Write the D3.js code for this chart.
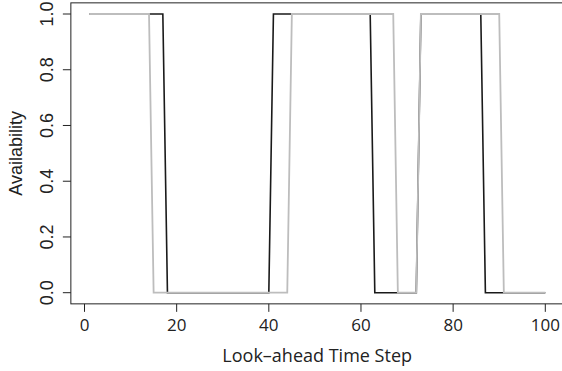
<!DOCTYPE html>
<html>
<head>
<meta charset="utf-8">
<script src="https://cdn.jsdelivr.net/npm/d3@7"></script>
<style>
  body { margin: 0; background: #fff; }
  svg { display: block; }
  .tick-x { font-family: 'Open Sans', sans-serif; font-size: 17px; fill: #222; }
  .tick-y { font-family: 'Liberation Sans', Arial, sans-serif; font-size: 18px; fill: #222; }
  .title-x { font-family: 'Open Sans', sans-serif; font-size: 18px; fill: #222; }
  .title-y { font-family: 'Liberation Sans', Arial, sans-serif; font-size: 18px; fill: #222; }
</style>
</head>
<body>
<div id="chart"></div>
<script>
// change points of each series (time step, availability), joined by straight segments
const blackSeries = [[1,1],[17,1],[18,0],[40,0],[41,1],[62,1],[63,0],[72,0],[73,1],[86,1],[87,0],[100,0]];
const greySeries = [[1,1],[14,1],[15,0],[44,0],[45,1],[67,1],[68,0],[72,0],[73,1],[90,1],[91,0],[100,0]];
const xTicks = [0, 20, 40, 60, 80, 100];
const yTicks = [0, 0.2, 0.4, 0.6, 0.8, 1.0];

const width = 562, height = 371;
const svg = d3.select('#chart').append('svg')
  .attr('width', width).attr('height', height);

const x = d3.scaleLinear().domain([0, 100]).range([84.5, 545.3]);
const y = d3.scaleLinear().domain([0, 1]).range([292.7, 14]);

// R-style box: data range padded by 4%
const x0 = x(1 - 0.04 * 99), x1 = x(100 + 0.04 * 99);
const y0 = y(-0.04), y1 = y(1.04);

const line = d3.line().x(d => x(d[0])).y(d => y(d[1]));

svg.append('path')
  .attr('d', line(blackSeries))
  .attr('fill', 'none')
  .attr('stroke', '#1a1a1a')
  .attr('stroke-width', 1.6);

svg.append('path')
  .attr('d', line(greySeries))
  .attr('fill', 'none')
  .attr('stroke', '#bdbdbd')
  .attr('stroke-width', 1.8);

svg.append('rect')
  .attr('x', x0).attr('y', y1)
  .attr('width', x1 - x0).attr('height', y0 - y1)
  .attr('fill', 'none')
  .attr('stroke', '#222')
  .attr('stroke-width', 1);

// x axis ticks
const gx = svg.append('g');
gx.selectAll('line').data(xTicks).enter().append('line')
  .attr('x1', d => x(d)).attr('x2', d => x(d))
  .attr('y1', y0).attr('y2', y0 + 8)
  .attr('stroke', '#222');
gx.selectAll('text').data(xTicks).enter().append('text')
  .attr('class', 'tick-x')
  .attr('x', d => x(d)).attr('y', 331)
  .attr('text-anchor', 'middle')
  .text(d => d);

// y axis ticks
const gy = svg.append('g');
gy.selectAll('line').data(yTicks).enter().append('line')
  .attr('x1', x0 - 8).attr('x2', x0)
  .attr('y1', d => y(d)).attr('y2', d => y(d))
  .attr('stroke', '#222');
gy.selectAll('text').data(yTicks).enter().append('text')
  .attr('class', 'tick-y')
  .attr('transform', d => `translate(53,${y(d)}) rotate(-90)`)
  .attr('text-anchor', 'middle')
  .text(d => d.toFixed(1));

svg.append('text')
  .attr('class', 'title-x')
  .attr('x', (x0 + x1) / 2).attr('y', 362)
  .attr('text-anchor', 'middle')
  .text('Look\u2013ahead Time Step');

svg.append('text')
  .attr('class', 'title-y')
  .attr('transform', `translate(22,${(y0 + y1) / 2}) rotate(-90)`)
  .attr('text-anchor', 'middle')
  .text('Availability');
</script>
</body>
</html>
